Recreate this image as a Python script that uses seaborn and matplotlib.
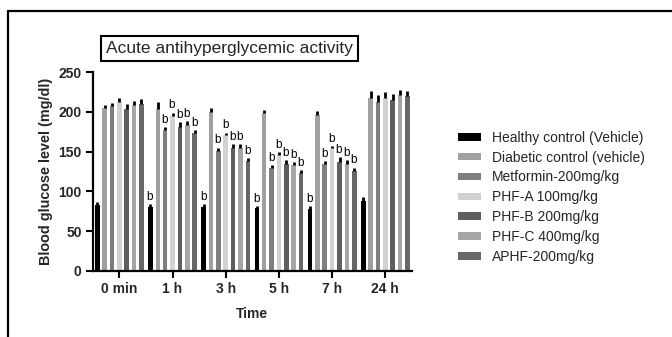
import numpy as np
import pandas as pd
import matplotlib
matplotlib.use('Agg')
import matplotlib.pyplot as plt
from matplotlib.lines import Line2D
import seaborn as sns

# data (mean and upper error, mg/dl)
times = ['0 min', '1 h', '3 h', '5 h', '7 h', '24 h']
groups = ['Healthy control (Vehicle)', 'Diabetic control (vehicle)', 'Metformin-200mg/kg',
          'PHF-A 100mg/kg', 'PHF-B 200mg/kg', 'PHF-C 400mg/kg', 'APHF-200mg/kg']
healthy = [83, 80, 80, 79, 78, 88]
diabetic = [205, 204, 200, 198, 196, 217]
metformin = [207, 177, 151, 129, 135, 213]
phf_a = [212, 195, 171, 146, 154, 217]
phf_b = [204, 181, 154, 134, 137, 215]
phf_c = [209, 183, 155, 133, 135, 221]
aphf = [210, 173, 138, 123, 126, 220]
healthy_sem = [4, 4, 4, 3, 4, 5]
diabetic_sem = [4, 9, 5, 4, 5, 9]
metformin_sem = [4, 4, 4, 4, 3, 8]
phf_a_sem = [5, 4, 3, 3, 3, 8]
phf_b_sem = [6, 6, 5, 5, 6, 8]
phf_c_sem = [5, 5, 4, 4, 4, 7]
aphf_sem = [6, 4, 4, 4, 4, 6]
# which bars carry the "b" significance letter
b_marks = [0, 1, 1, 1, 1, 0]
colors = ['#000000', '#a0a0a0', '#7f7f7f', '#d2d2d2', '#5f5f5f', '#a6a6a6', '#676767']

means = [healthy, diabetic, metformin, phf_a, phf_b, phf_c, aphf]
sems = [healthy_sem, diabetic_sem, metformin_sem, phf_a_sem, phf_b_sem, phf_c_sem, aphf_sem]

rows = []
for g, vals in zip(groups, means):
    for t, v in zip(times, vals):
        rows.append({'Time': t, 'group': g, 'value': v})
df = pd.DataFrame(rows)

sns.set_style('ticks')
plt.rcParams['font.family'] = ['Liberation Sans', 'DejaVu Sans']

fig = plt.figure(figsize=(6.72, 3.37), dpi=100)
ax = fig.add_axes([0.138, 0.196, 0.475, 0.59])

sns.barplot(data=df, x='Time', y='value', hue='group', hue_order=groups,
            order=times, palette=colors, width=0.97, gap=0.38,
            errorbar=None, legend=False, ax=ax, saturation=1, linewidth=0)

bar_conts = list(ax.containers)
for i, cont in enumerate(bar_conts):
    xs = [p.get_x() + p.get_width() / 2 for p in cont.patches]
    hs = [p.get_height() for p in cont.patches]
    err = sems[i]
    ax.errorbar(xs, hs, yerr=[np.zeros(len(hs)), err], fmt='none',
                ecolor='black', elinewidth=2, capsize=0, zorder=3)
    if i == 1:
        continue
    for j, (x, h) in enumerate(zip(xs, hs)):
        if b_marks[j]:
            ax.text(x - 0.01, h + err[j] + 1.5, 'b', ha='center', va='bottom',
                    fontsize=8.5, color='black')

ax.set_ylim(0, 250)
ax.set_yticks([0, 50, 100, 150, 200, 250])
ax.set_xlim(-0.5, 5.5)
ax.set_ylabel('Blood glucose level (mg/dl)', fontsize=10.4, fontweight='bold', labelpad=4)
ax.set_xlabel('Time', fontsize=10, fontweight='bold', labelpad=8)
for lab in ax.get_xticklabels() + ax.get_yticklabels():
    lab.set_fontweight('bold')
    lab.set_fontsize(10)
ax.tick_params(axis='both', length=5, width=1.5, color='black', pad=3)
sns.despine(ax=ax)
for s in ['left', 'bottom']:
    ax.spines[s].set_linewidth(1.6)
    ax.spines[s].set_color('black')

handles = [c.patches[0] for c in bar_conts]
fig.legend(handles, groups, loc='upper left', bbox_to_anchor=(0.682, 0.612),
           frameon=False, fontsize=10, handlelength=1.6, handleheight=0.45,
           handletextpad=0.8, labelspacing=0.42, borderpad=0, borderaxespad=0)

fig.text(0.341, 0.856, 'Acute antihyperglycemic activity', ha='center', va='center',
         fontsize=12.5,
         bbox=dict(boxstyle='square,pad=0.3', facecolor='white', edgecolor='black', linewidth=1.5))

# partial outer frame (top and left edges)
fig.add_artist(Line2D([0.012, 1.0], [0.967, 0.967], transform=fig.transFigure, color='black', lw=1.6))
fig.add_artist(Line2D([0.012, 0.012], [0.0, 0.967], transform=fig.transFigure, color='black', lw=1.6))

fig.savefig('out.png', dpi=100)
